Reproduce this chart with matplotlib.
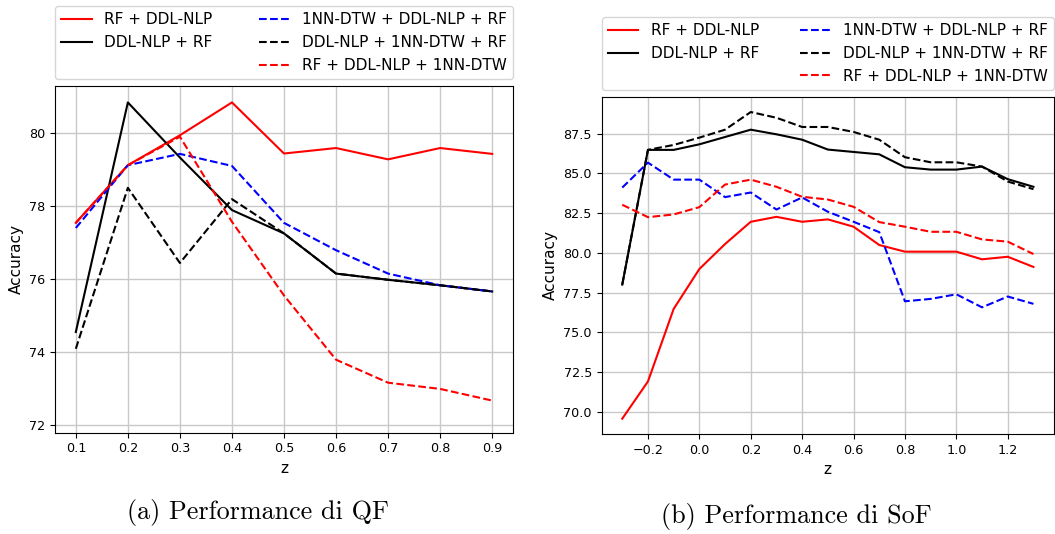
import numpy as np
from matplotlib import pyplot as plt

# Left panel data (QF)
z_qf = [0.1, 0.2, 0.3, 0.4, 0.5, 0.6, 0.7, 0.8, 0.9]
qf_rf_ddl = [77.55, 79.13, 79.95, 80.85, 79.45, 79.60, 79.29, 79.60, 79.44]
qf_ddl_rf = [74.56, 80.85, 79.34, 77.90, 77.26, 76.16, 75.99, 75.84, 75.67]
qf_nn_ddl_rf = [77.41, 79.13, 79.44, 79.11, 77.55, 76.80, 76.16, 75.84, 75.67]
qf_ddl_nn_rf = [74.10, 78.51, 76.45, 78.20, 77.26, 76.16, 75.99, 75.84, 75.67]
qf_rf_ddl_nn = [77.55, 79.13, 79.91, 77.58, 75.56, 73.80, 73.17, 73.00, 72.68]

# Right panel data (SoF)
z_sof = [-0.3, -0.2, -0.1, 0.0, 0.1, 0.2, 0.3, 0.4, 0.5, 0.6, 0.7, 0.8,
         0.9, 1.0, 1.1, 1.2, 1.3]
sof_rf_ddl = [69.58, 71.92, 76.48, 78.99, 80.56, 81.96, 82.27, 81.96, 82.11,
              81.65, 80.50, 80.08, 80.08, 80.08, 79.60, 79.76, 79.12]
sof_ddl_rf = [78.01, 86.48, 86.48, 86.83, 87.29, 87.75, 87.46, 87.12, 86.50,
              86.35, 86.20, 85.39, 85.24, 85.24, 85.43, 84.64, 84.16]
sof_nn_ddl_rf = [84.11, 85.68, 84.61, 84.61, 83.51, 83.80, 82.73, 83.49, 82.59,
                 81.96, 81.31, 76.96, 77.11, 77.40, 76.58, 77.26, 76.80]
sof_ddl_nn_rf = [78.01, 86.48, 86.79, 87.25, 87.75, 88.86, 88.50, 87.92, 87.92,
                 87.61, 87.12, 86.02, 85.70, 85.70, 85.43, 84.49, 84.01]
sof_rf_ddl_nn = [83.03, 82.25, 82.42, 82.88, 84.30, 84.61, 84.16, 83.53, 83.36,
                 82.90, 81.94, 81.65, 81.33, 81.33, 80.85, 80.71, 79.93]

labels = ['RF + DDL-NLP', 'DDL-NLP + RF', '1NN-DTW + DDL-NLP + RF',
          'DDL-NLP + 1NN-DTW + RF', 'RF + DDL-NLP + 1NN-DTW']

plt.rcParams['font.size'] = 9.2

fig = plt.figure(figsize=(10.55, 5.34), dpi=100)
W, H = 1055, 534
ax1 = fig.add_axes([55 / W, (H - 432.7) / H, (513 - 55) / W, (432.7 - 86) / H])
ax2 = fig.add_axes([601.7 / W, (H - 434) / H, (1054 - 601.7) / W, (434 - 96.7) / H])


def draw(ax, z, s1, s2, s3, s4, s5):
    h1, = ax.plot(z, s1, c='red', lw=1.5)
    h2, = ax.plot(z, s2, c='black', lw=1.5)
    h3, = ax.plot(z, s3, c='blue', ls='--', lw=1.5)
    h4, = ax.plot(z, s4, c='black', ls='--', lw=1.5)
    h5, = ax.plot(z, s5, c='red', ls='--', lw=1.5)
    blank, = ax.plot([], [], alpha=0)
    ax.grid(True, color='#c8c8c8', lw=1)
    ax.set_axisbelow(True)
    ax.set_xlabel('z', fontsize=11)
    ax.set_ylabel('Accuracy', fontsize=11)
    ax.legend([h1, h2, blank, h3, h4, h5],
              [labels[0], labels[1], '', labels[2], labels[3], labels[4]],
              ncol=2, fontsize=11, mode='expand', loc='lower left',
              bbox_to_anchor=(0, 1.02, 1, 0.2), borderaxespad=0,
              handlelength=2.0, labelspacing=0.52)


draw(ax1, z_qf, qf_rf_ddl, qf_ddl_rf, qf_nn_ddl_rf, qf_ddl_nn_rf, qf_rf_ddl_nn)
ax1.set_xticks(z_qf)
ax1.set_yticks([72, 74, 76, 78, 80])
ax1.set_ylim(71.8, 81.3)

draw(ax2, z_sof, sof_rf_ddl, sof_ddl_rf, sof_nn_ddl_rf, sof_ddl_nn_rf, sof_rf_ddl_nn)

fig.text(258 / W, 1 - 512 / H, '(a) Performance di QF', family='cmr10',
         fontsize=18.8, ha='center', va='center')
fig.text(796 / W, 1 - 517 / H, '(b) Performance di SoF', family='cmr10',
         fontsize=18.8, ha='center', va='center')

plt.savefig('out.png', dpi=100)
